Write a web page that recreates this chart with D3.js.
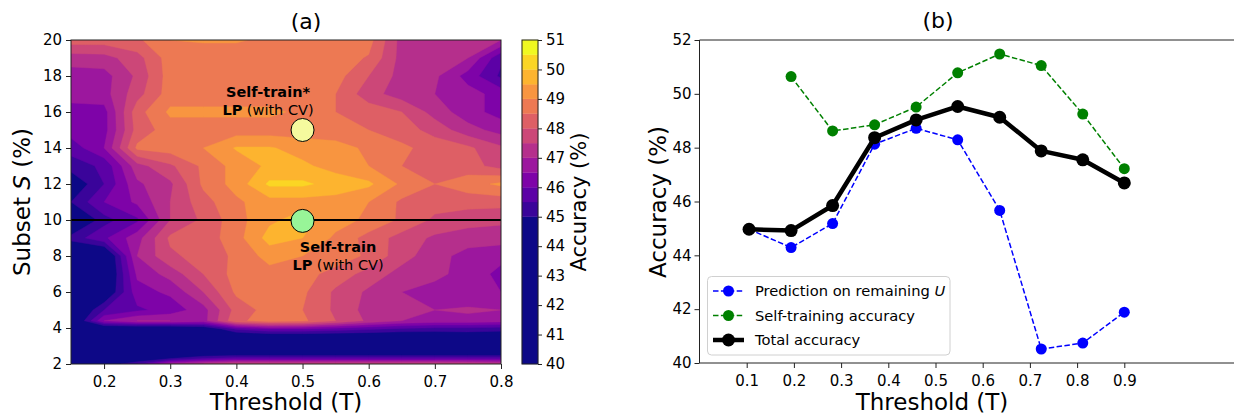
<!DOCTYPE html>
<html>
<head>
<meta charset="utf-8">
<script src="https://cdn.jsdelivr.net/npm/d3@7"></script>
<style>
  body { margin: 0; background: #fff; }
  text { font-family: "DejaVu Sans", sans-serif; fill: #000; }
</style>
</head>
<body>
<svg id="chart" width="1234" height="417"></svg>
<script>
// ---- panel (a): accuracy grid, threshold T (columns) x subset S (rows) ----
const thresholdCols = [0.15, 0.20, 0.25, 0.30, 0.35, 0.40, 0.45, 0.50, 0.55, 0.60, 0.65, 0.70, 0.75, 0.80];
const subsetRows = [2, 2.3, 2.7, 3.5, 3.95, 4.4, 5, 6, 7, 8, 9, 10, 11, 12, 13, 14, 15, 16, 17, 18, 19, 20];
const accGrid = [
  [44.0, 44.5, 45.5, 47.0, 47.5, 47.8, 47.8, 47.8, 47.8, 47.8, 47.8, 47.8, 47.7, 47.5],
  [44.0, 44.0, 44.3, 45.0, 45.5, 45.8, 45.8, 45.8, 45.8, 45.8, 45.8, 45.8, 45.8, 45.8],
  [44.0, 44.0, 44.0, 44.0, 44.0, 44.0, 44.0, 44.0, 44.0, 44.0, 44.0, 44.0, 44.0, 44.0],
  [44.0, 44.0, 44.0, 44.0, 44.0, 44.2, 44.3, 44.3, 44.3, 44.3, 44.3, 44.4, 44.5, 44.5],
  [44.0, 44.0, 44.0, 44.0, 44.3, 45.6, 46.0, 46.0, 45.8, 45.6, 45.4, 45.3, 45.3, 45.2],
  [44.0, 46.5, 47.0, 47.0, 46.8, 48.4, 48.7, 48.6, 48.0, 47.4, 47.0, 46.8, 46.8, 46.7],
  [44.0, 45.5, 45.9, 46.2, 46.8, 48.2, 48.7, 48.5, 47.9, 47.3, 47.0, 47.0, 47.1, 47.0],
  [44.0, 44.3, 46.3, 46.6, 47.5, 48.6, 49.0, 48.6, 47.9, 47.4, 47.0, 46.7, 46.5, 46.5],
  [44.0, 44.0, 46.6, 47.2, 48.0, 48.7, 48.8, 48.7, 48.3, 47.8, 47.3, 47.2, 46.7, 46.4],
  [44.0, 44.0, 47.0, 47.9, 48.2, 48.6, 49.2, 49.0, 48.8, 48.4, 47.7, 47.2, 46.8, 46.6],
  [45.2, 45.9, 46.8, 48.1, 48.2, 48.8, 49.7, 49.5, 48.9, 48.3, 47.8, 47.4, 47.25, 47.25],
  [44.0, 45.3, 45.9, 47.5, 48.1, 48.8, 49.4, 49.7, 49.2, 48.9, 48.4, 47.9, 47.7, 47.6],
  [45.0, 46.0, 46.6, 47.5, 48.3, 48.9, 49.3, 49.3, 49.3, 49.0, 48.4, 48.2, 48.2, 48.2],
  [44.5, 45.5, 46.9, 47.4, 48.6, 49.2, 50.1, 50.1, 49.8, 49.6, 48.9, 48.5, 48.8, 49.1],
  [45.25, 45.6, 47.3, 47.9, 48.6, 49.2, 49.6, 49.6, 49.3, 49.0, 48.5, 48.3, 48.2, 47.8],
  [45.7, 46.5, 48.6, 48.75, 49.0, 49.55, 49.55, 49.3, 49.2, 48.9, 48.6, 48.3, 48.1, 47.6],
  [46.25, 46.3, 48.2, 48.75, 48.75, 48.75, 48.75, 48.75, 48.7, 48.5, 48.25, 47.8, 47.2, 46.8],
  [46.25, 46.3, 48.3, 49.1, 49.1, 49.1, 49.1, 48.9, 48.5, 48.3, 48.0, 47.3, 46.7, 46.3],
  [46.75, 46.8, 47.8, 48.75, 48.75, 48.75, 48.75, 48.75, 48.5, 47.7, 47.25, 47.0, 46.7, 46.3],
  [46.75, 46.8, 47.6, 48.75, 48.75, 48.75, 48.75, 48.75, 48.7, 48.0, 47.3, 47.1, 46.3, 45.4],
  [47.25, 47.3, 47.8, 48.75, 48.75, 48.75, 48.75, 48.75, 48.75, 48.45, 47.3, 47.2, 47.0, 45.6],
  [48.25, 48.25, 48.4, 49.0, 49.05, 49.05, 48.9, 48.75, 48.75, 48.7, 47.3, 47.25, 47.25, 47.0]
];
const contourLevels = [45, 45.5, 46, 46.5, 47, 47.5, 48, 48.5, 49, 49.5, 50, 50.5];
const cbTicks = [40, 41, 42, 43, 44, 45, 46, 47, 48, 49, 50, 51];
const xTicksA = [0.2, 0.3, 0.4, 0.5, 0.6, 0.7, 0.8];
const yTicksA = [2, 4, 6, 8, 10, 12, 14, 16, 18, 20];
// highlighted settings: [T, S]
const selfTrainStar = [0.5, 15];
const selfTrain = [0.5, 9.95];
const cutLine = 10;

// ---- panel (b): accuracy vs threshold at S = 10% ----
const thresholdsB = [0.105, 0.194, 0.282, 0.371, 0.459, 0.547, 0.636, 0.724, 0.812, 0.9];
const predRemaining = [44.97, 44.29, 45.18, 48.13, 48.72, 48.29, 45.67, 40.52, 40.74, 41.89];
const selfTrainAcc = [null, 50.64, 48.62, 48.85, 49.51, 50.78, 51.48, 51.05, 49.25, 47.22];
const totalAcc = [44.97, 44.92, 45.85, 48.37, 49.03, 49.53, 49.13, 47.88, 47.55, 46.69];
const xTicksB = [0.1, 0.2, 0.3, 0.4, 0.5, 0.6, 0.7, 0.8, 0.9];
const yTicksB = [40, 42, 44, 46, 48, 50, 52];

const svg = d3.select('#chart');
const fmt1 = d3.format('.1f');

// band colours: below first level, then one per level
const bandColor = k => d3.interpolatePlasma(k / contourLevels.length);

// ================= panel (a) =================
const xA = d3.scaleLinear().domain([0.15, 0.8]).range([71, 501]);
const yA = d3.scaleLinear().domain([2, 20]).range([364, 40]);
const gA = svg.append('g');

gA.append('clipPath').attr('id', 'clipA')
  .append('rect').attr('x', 71).attr('y', 40).attr('width', 430).attr('height', 324);

const heat = gA.append('g').attr('clip-path', 'url(#clipA)');
heat.append('rect').attr('x', 71).attr('y', 40).attr('width', 430).attr('height', 324)
  .attr('fill', bandColor(0));

const nx = thresholdCols.length, ny = subsetRows.length;
const flat = [];
accGrid.forEach(row => row.forEach(v => flat.push(v)));
const ix = d3.scaleLinear().domain(thresholdCols.map((d, i) => i + 0.5)).range(thresholdCols).clamp(true);
const iy = d3.scaleLinear().domain(subsetRows.map((d, i) => i + 0.5)).range(subsetRows).clamp(true);
const contours = d3.contours().size([nx, ny]).thresholds(contourLevels)(flat);

function ringPath(ring) {
  return 'M' + ring.map(p => xA(ix(p[0])).toFixed(2) + ',' + yA(iy(p[1])).toFixed(2)).join('L') + 'Z';
}
heat.selectAll('path.band')
  .data(contours)
  .enter().append('path')
  .attr('class', 'band')
  .attr('d', c => c.coordinates.map(poly => poly.map(ringPath).join('')).join(''))
  .attr('fill', (c, i) => bandColor(i + 1))
  .attr('stroke', (c, i) => bandColor(i + 1))
  .attr('stroke-width', 0.4)
  .attr('fill-rule', 'evenodd');

// line at S = 10 %
gA.append('line')
  .attr('x1', 71).attr('x2', 501)
  .attr('y1', yA(cutLine)).attr('y2', yA(cutLine))
  .attr('stroke', '#000').attr('stroke-width', 1.8);

gA.append('circle')
  .attr('cx', xA(selfTrainStar[0])).attr('cy', yA(selfTrainStar[1])).attr('r', 11.5)
  .attr('fill', '#f5fa9e').attr('stroke', '#000').attr('stroke-width', 1);
gA.append('circle')
  .attr('cx', xA(selfTrain[0])).attr('cy', yA(selfTrain[1])).attr('r', 11.5)
  .attr('fill', '#98f598').attr('stroke', '#000').attr('stroke-width', 1);

function annot(cx, y1, title) {
  gA.append('text').attr('x', cx).attr('y', y1).attr('text-anchor', 'middle')
    .attr('font-size', 14.5).attr('font-weight', 'bold').text(title);
  const t = gA.append('text').attr('x', cx).attr('y', y1 + 18).attr('text-anchor', 'middle')
    .attr('font-size', 14.5);
  t.append('tspan').attr('font-weight', 'bold').text('LP');
  t.append('tspan').text(' (with CV)');
}
annot(268, 97, 'Self-train*');
annot(338, 252, 'Self-train');

gA.append('rect').attr('x', 71).attr('y', 40).attr('width', 430).attr('height', 324)
  .attr('fill', 'none').attr('stroke', '#222').attr('stroke-width', 1);

const axA = gA.append('g').attr('transform', 'translate(0,364)')
  .call(d3.axisBottom(xA).tickValues(xTicksA).tickFormat(fmt1).tickSize(5).tickPadding(7));
const ayA = gA.append('g').attr('transform', 'translate(71,0)')
  .call(d3.axisLeft(yA).tickValues(yTicksA).tickFormat(d3.format('d')).tickSize(5).tickPadding(4));

// colorbar
const cbY = d3.scaleLinear().domain([40, 51]).range([364, 40]);
const cbBands = [40].concat(contourLevels);
const cbTop = contourLevels.concat([51]);
const gCb = svg.append('g');
gCb.selectAll('rect.cb')
  .data(cbBands)
  .enter().append('rect')
  .attr('class', 'cb')
  .attr('x', 522).attr('width', 16)
  .attr('y', (d, i) => cbY(cbTop[i]))
  .attr('height', (d, i) => cbY(d) - cbY(cbTop[i]))
  .attr('fill', (d, i) => bandColor(i))
  .attr('stroke', (d, i) => bandColor(i)).attr('stroke-width', 0.3);
gCb.append('rect').attr('x', 522).attr('y', 40).attr('width', 16).attr('height', 324)
  .attr('fill', 'none').attr('stroke', '#222').attr('stroke-width', 1);
const cbAx = gCb.append('g').attr('transform', 'translate(538,0)')
  .call(d3.axisRight(cbY).tickValues(cbTicks).tickFormat(d3.format('d')).tickSize(4).tickPadding(4));

gA.append('text').attr('x', 306).attr('y', 29).attr('text-anchor', 'middle')
  .attr('font-size', 22).text('(a)');
gA.append('text').attr('x', 286).attr('y', 410).attr('text-anchor', 'middle')
  .attr('font-size', 23).text('Threshold (T)');
const ylA = gA.append('text').attr('transform', 'translate(30,202) rotate(-90)')
  .attr('text-anchor', 'middle').attr('font-size', 23);
ylA.append('tspan').text('Subset ');
ylA.append('tspan').attr('font-style', 'italic').text('S');
ylA.append('tspan').text(' (%)');
gCb.append('text').attr('transform', 'translate(586,202) rotate(-90)')
  .attr('text-anchor', 'middle').attr('font-size', 21).text('Accuracy (%)');

// ================= panel (b) =================
const xB = d3.scaleLinear().domain([0, 1]).range([699.5, 1171.5]);
const yB = d3.scaleLinear().domain([40, 52]).range([363, 40]);
const gB = svg.append('g');

gB.append('line').attr('x1', 699.5).attr('x2', 699.5).attr('y1', 40).attr('y2', 363)
  .attr('stroke', '#222').attr('stroke-width', 1);
gB.append('line').attr('x1', 699.5).attr('x2', 1234).attr('y1', 40).attr('y2', 40)
  .attr('stroke', '#222').attr('stroke-width', 1);
gB.append('line').attr('x1', 699.5).attr('x2', 1234).attr('y1', 363).attr('y2', 363)
  .attr('stroke', '#222').attr('stroke-width', 1);

const axB = gB.append('g').attr('transform', 'translate(0,363)')
  .call(d3.axisBottom(xB).tickValues(xTicksB).tickFormat(fmt1).tickSize(5).tickPadding(7));
const ayB = gB.append('g').attr('transform', 'translate(699.5,0)')
  .call(d3.axisLeft(yB).tickValues(yTicksB).tickFormat(d3.format('d')).tickSize(5).tickPadding(3));

[axA, ayA, cbAx, axB, ayB].forEach(a => {
  a.select('.domain').remove();
  a.selectAll('.tick line').attr('stroke', '#222');
  a.selectAll('.tick text').attr('font-size', 15).attr('font-family', '"DejaVu Sans", sans-serif').attr('fill', '#000');
});

const series = [
  { values: predRemaining, color: '#0000ff', width: 1.5, dash: '5.5,2.4', r: 5.5 },
  { values: selfTrainAcc, color: '#008000', width: 1.5, dash: '5.5,2.4', r: 5.5 },
  { values: totalAcc, color: '#000000', width: 4.5, dash: null, r: 6.5 }
];
const line = d3.line().x(d => xB(d[0])).y(d => yB(d[1]));
series.forEach(s => {
  const pts = thresholdsB.map((t, i) => [t, s.values[i]]).filter(d => d[1] != null);
  gB.append('path').datum(pts).attr('d', line)
    .attr('fill', 'none').attr('stroke', s.color).attr('stroke-width', s.width)
    .attr('stroke-dasharray', s.dash).attr('stroke-linejoin', 'round');
  gB.selectAll(null).data(pts).enter().append('circle')
    .attr('cx', d => xB(d[0])).attr('cy', d => yB(d[1])).attr('r', s.r)
    .attr('fill', s.color);
});

// legend
const lg = gB.append('g');
lg.append('rect').attr('x', 707.5).attr('y', 276.5).attr('width', 242.5).attr('height', 78.5)
  .attr('rx', 4).attr('fill', '#fff').attr('fill-opacity', 0.8).attr('stroke', '#d0d0d0');
const legendLabels = [['Prediction on remaining ', 'U'], ['Self-training accuracy', ''], ['Total accuracy', '']];
series.forEach((s, i) => {
  const cy = 291 + i * 24.5;
  lg.append('line').attr('x1', 713).attr('x2', 744).attr('y1', cy).attr('y2', cy)
    .attr('stroke', s.color).attr('stroke-width', s.width).attr('stroke-dasharray', s.dash);
  lg.append('circle').attr('cx', 728.5).attr('cy', cy).attr('r', s.r).attr('fill', s.color);
  const t = lg.append('text').attr('x', 755).attr('y', cy).attr('dy', '0.35em').attr('font-size', 14.7);
  t.append('tspan').text(legendLabels[i][0]);
  if (legendLabels[i][1]) t.append('tspan').attr('font-style', 'italic').text(legendLabels[i][1]);
});

gB.append('text').attr('x', 938).attr('y', 28).attr('text-anchor', 'middle')
  .attr('font-size', 22).text('(b)');
gB.append('text').attr('x', 932).attr('y', 410).attr('text-anchor', 'middle')
  .attr('font-size', 23).text('Threshold (T)');
gB.append('text').attr('transform', 'translate(666,202) rotate(-90)')
  .attr('text-anchor', 'middle').attr('font-size', 23).text('Accuracy (%)');
</script>
</body>
</html>
